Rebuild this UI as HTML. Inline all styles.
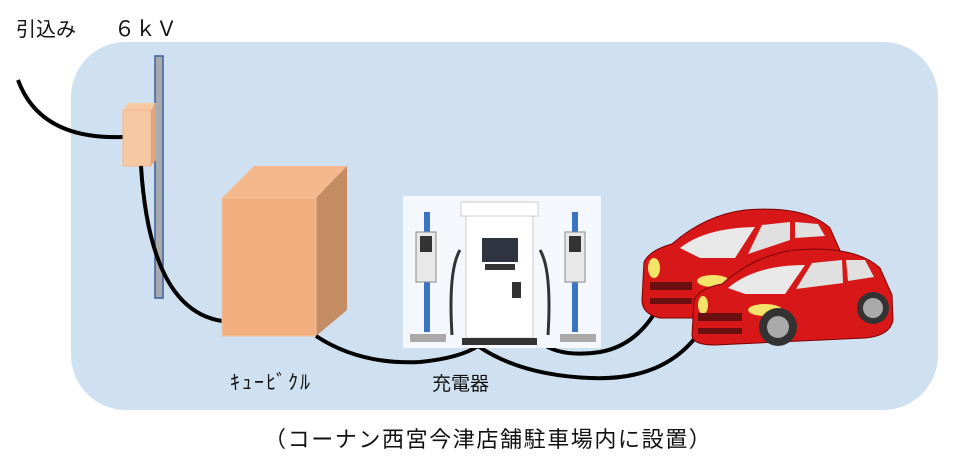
<!DOCTYPE html>
<html><head><meta charset="utf-8"><style>
body{margin:0;background:#fff;width:960px;height:466px;overflow:hidden}
svg{display:block}
text{font-family:"Liberation Sans","Noto Sans CJK JP",sans-serif;fill:#111}
</style></head><body>
<svg width="960" height="466" viewBox="0 0 960 466">
<rect x="71" y="42" width="867" height="368" rx="55" fill="#cfe0f1"/>
<text x="16" y="36" font-size="20">引込み</text>
<text x="114" y="36" font-size="21" font-family="Liberation Serif,serif">６ｋＶ</text>
<rect x="155" y="56" width="8" height="242" fill="#a9aab0" stroke="#3b5f9a" stroke-width="1.5"/>
<path d="M18,80 Q40,140 123,137" fill="none" stroke="#000" stroke-width="4"/>
<polygon points="123,110 128,103 156,103 150,110" fill="#f7c9a3"/>
<rect x="123" y="110" width="28" height="56" fill="#f7c9a3" stroke="#f0b890"/>
<polygon points="151,110 156,103 156,160 151,166" fill="#e0a57c"/>
<path d="M141,166 Q150,310 222,321" fill="none" stroke="#000" stroke-width="4"/>
<polygon points="222,198 254,166 347,166 316,198" fill="#f5b88c"/>
<polygon points="316,198 347,166 347,310 316,336" fill="#c48c62"/>
<rect x="222" y="198" width="94" height="138" fill="#f1ae7e" stroke="#f6c29c"/>
<path d="M316,336 Q360,365 420,362 Q460,358 478,346" fill="none" stroke="#000" stroke-width="4"/>
<path d="M478,346 Q520,375 590,378 Q680,382 712,310" fill="none" stroke="#000" stroke-width="4"/>
<path d="M540,342 Q560,358 600,352 Q640,345 662,300" fill="none" stroke="#000" stroke-width="4"/>
<rect x="403" y="196" width="198" height="152" fill="#f4f7fb"/>
<rect x="424" y="212" width="6" height="120" fill="#3c74c4"/>
<rect x="416" y="232" width="20" height="50" fill="#e8e8e8" stroke="#888"/>
<rect x="420" y="236" width="12" height="16" fill="#333"/>
<rect x="410" y="334" width="36" height="8" fill="#aaa"/>
<rect x="572" y="212" width="6" height="120" fill="#3c74c4"/>
<rect x="565" y="232" width="20" height="50" fill="#e8e8e8" stroke="#888"/>
<rect x="569" y="236" width="12" height="16" fill="#333"/>
<rect x="560" y="334" width="36" height="8" fill="#aaa"/>
<rect x="461" y="202" width="77" height="14" fill="#fff" stroke="#ccc"/>
<rect x="466" y="216" width="67" height="122" fill="#fff" stroke="#ccc"/>
<rect x="482" y="238" width="36" height="24" fill="#2e3440"/>
<rect x="485" y="264" width="30" height="6" fill="#333"/>
<rect x="512" y="282" width="9" height="16" fill="#333"/>
<rect x="462" y="338" width="75" height="7" fill="#333"/>
<path d="M460,250 Q448,270 452,335" fill="none" stroke="#333" stroke-width="3"/>
<path d="M540,250 Q552,270 548,335" fill="none" stroke="#333" stroke-width="3"/>
<path d="M642,300 L644,262 Q650,250 672,244 Q705,215 745,210 Q805,205 830,228 L842,255 L840,300 Q830,318 800,318 L660,318 Q642,314 642,300Z" fill="#d81818" stroke="#7a0000"/>
<path d="M680,248 Q705,228 755,227 L735,258 L700,258Z" fill="#e8e8e8"/>
<path d="M762,225 L790,222 L790,240 L748,254Z" fill="#e0e0e0"/>
<path d="M795,222 L818,224 L825,236 L795,238Z" fill="#e0e0e0"/>
<ellipse cx="654" cy="268" rx="6" ry="10" fill="#f5e46a"/>
<ellipse cx="713" cy="281" rx="16" ry="6" fill="#f5e46a"/>
<rect x="650" y="282" width="42" height="8" fill="#6a1010"/>
<rect x="650" y="298" width="42" height="6" fill="#6a1010"/>
<path d="M692,335 L694,300 Q700,288 722,284 Q755,255 795,250 Q855,245 880,268 L892,295 L893,320 Q890,336 865,338 L715,345 Q692,345 692,335Z" fill="#d81818" stroke="#7a0000"/>
<path d="M728,288 Q755,265 805,265 L785,294 L745,294Z" fill="#e8e8e8"/>
<path d="M812,263 L842,260 L843,283 L796,289Z" fill="#e0e0e0"/>
<path d="M846,260 L865,260 L874,277 L848,281Z" fill="#e0e0e0"/>
<ellipse cx="765" cy="310" rx="17" ry="6" fill="#f5e46a"/>
<ellipse cx="703" cy="305" rx="5" ry="9" fill="#f5e46a"/>
<rect x="698" y="313" width="44" height="8" fill="#6a1010"/>
<rect x="698" y="328" width="44" height="6" fill="#6a1010"/>
<circle cx="778" cy="327" r="19" fill="#333"/><circle cx="778" cy="327" r="11" fill="#aaa"/>
<circle cx="873" cy="308" r="16" fill="#333"/><circle cx="873" cy="308" r="10" fill="#aaa"/>
<text x="230" y="389" font-size="20" letter-spacing="2">ｷｭｰﾋﾞｸﾙ</text>
<text x="432" y="390" font-size="19">充電器</text>
<text x="264" y="447" font-size="22" letter-spacing="1.6">（コーナン西宮今津店舗駐車場内に設置）</text>
</svg>
</body></html>
